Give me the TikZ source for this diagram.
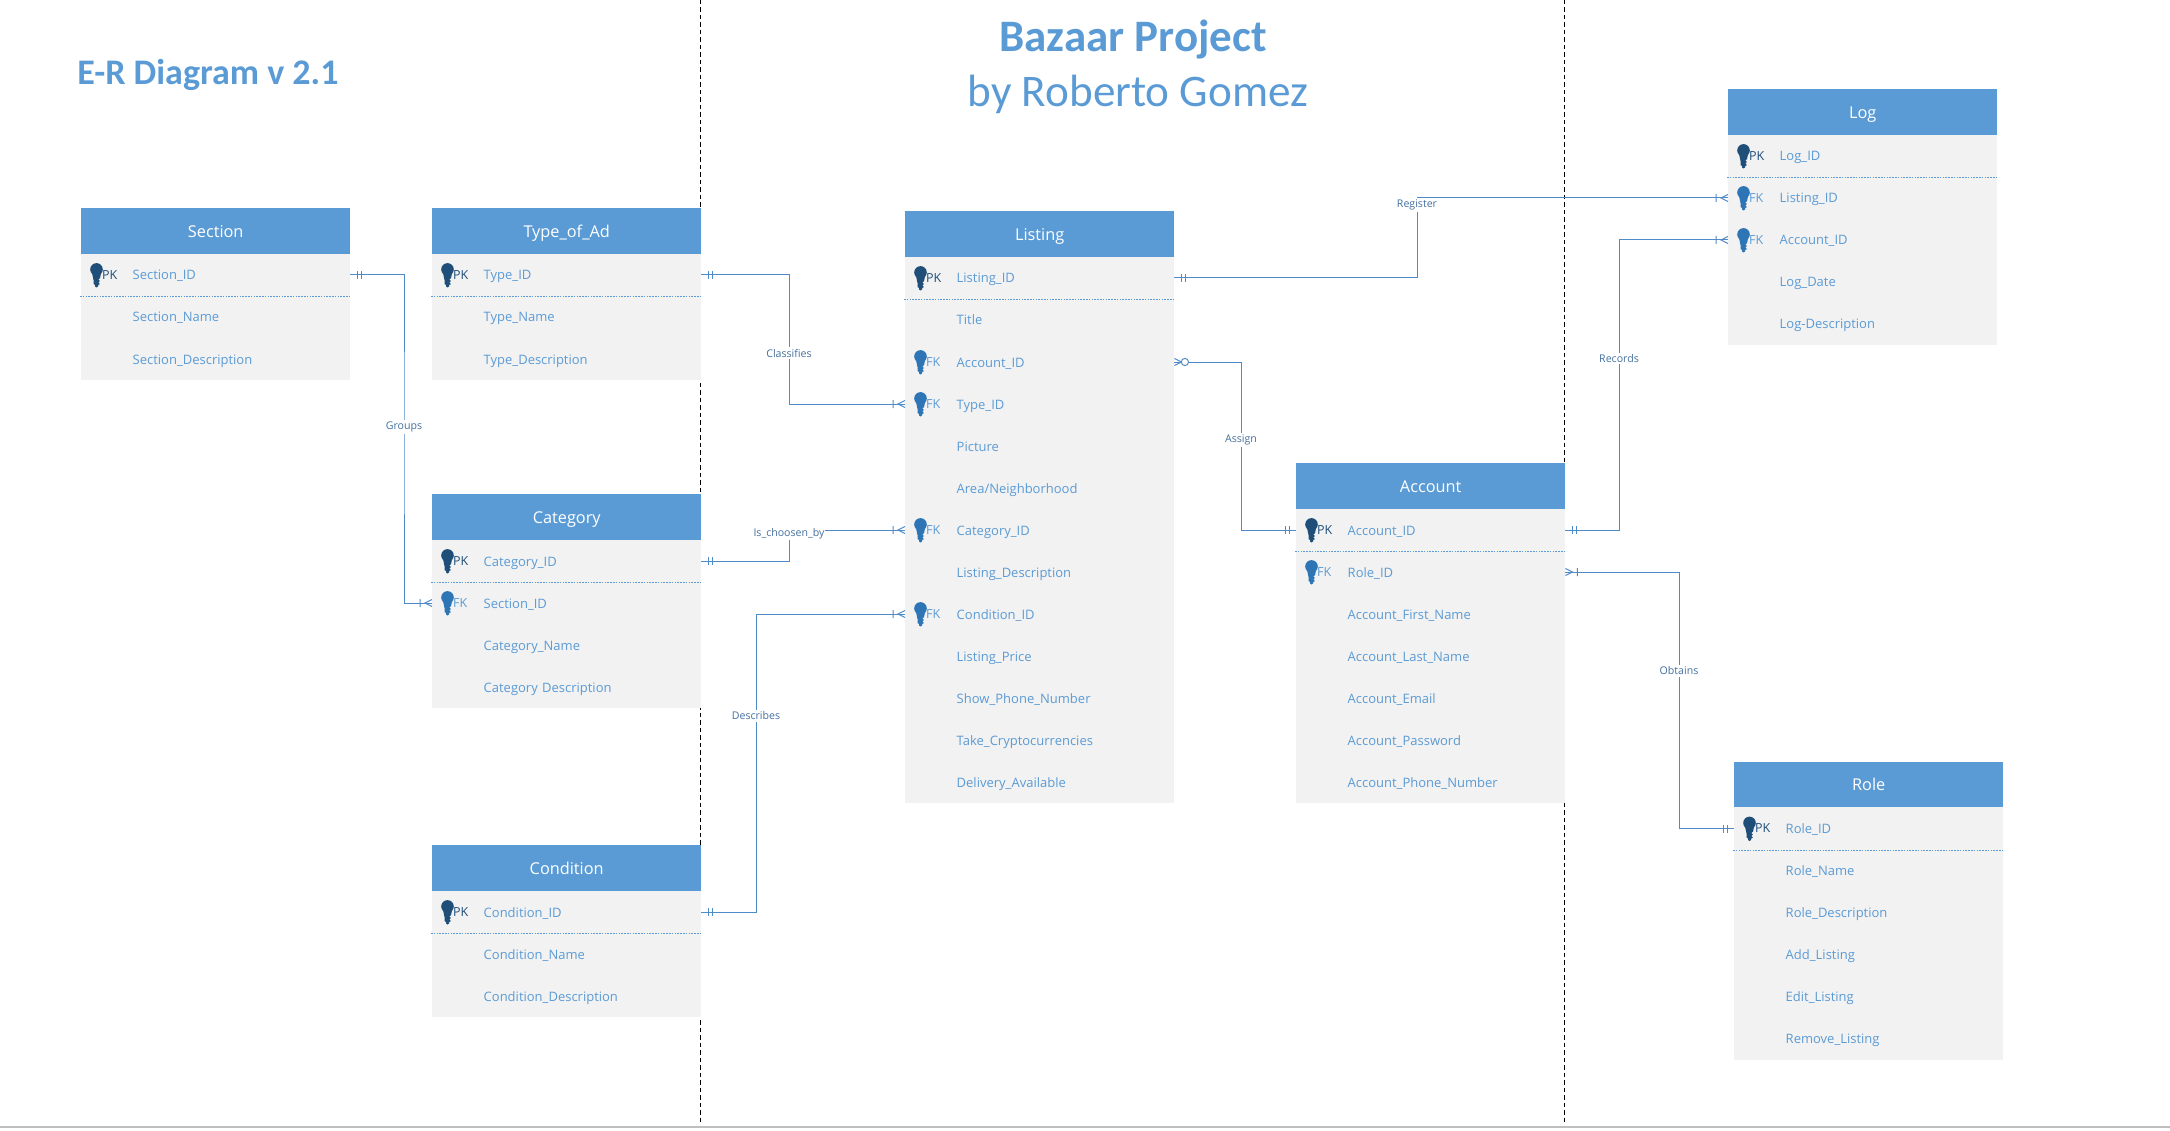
\documentclass[tikz,border=0pt]{standalone}
\usepackage{fontspec}
\setmainfont{Open Sans}
\newfontfamily\titlefont{Carlito}

\definecolor{erblue}{HTML}{5B9BD5}
\definecolor{erline}{HTML}{4F8AC9}
\definecolor{errel}{HTML}{44709F}
\definecolor{ergray}{HTML}{F2F2F2}
\definecolor{pkblue}{HTML}{1F4E79}
\definecolor{fkblue}{HTML}{2E75B6}

\tikzset{
  erhead/.style={fill=erblue, text=white, minimum width=269pt, minimum height=46pt, inner sep=0pt, text height=14.5pt, text depth=2.5pt, font=\fontsize{16.3}{18}\selectfont},
  errow/.style={fill=ergray, text=erblue, anchor=west, minimum height=42.5pt, inner sep=0pt, text width=269pt, text height=11pt, text depth=1pt,
    font=\fontsize{13}{15}\selectfont, execute at begin node={\hspace*{51.5pt}}},
  erkey/.style={anchor=west, inner sep=0pt, font=\fontsize{12.5}{14}\selectfont},
  ersep/.style={erblue, line width=0.8pt, dash pattern=on 1.6pt off 1.2pt},
  conn/.style={erline, line width=1pt},
  rel/.style={fill=white, text=errel, inner xsep=0.5pt, inner ysep=1.5pt, font=\fontsize{10.6}{12}\selectfont},
  divider/.style={black, line width=1pt, dash pattern=on 4.5pt off 3pt},
  keyicon/.pic={
    \fill (0,-5.6) circle (6.3);
    \fill (-4.5,-2) -- (-3,5) -- (-3,9) -- (-1.5,10) -- (-1.5,11.5) -- (0,12.5) -- (1.5,11.5) -- (1.8,10) -- (3.4,9) -- (1.8,7.5) -- (3.4,6) -- (1.8,4.5) -- (3.6,3) -- (4.5,-2) -- cycle;
  },
  onemark/.pic={\draw[conn] (7,-4) -- (7,4) (11,-4) -- (11,4);},
  manymark/.pic={\draw[conn] (12,-4) -- (12,4) (0,-3.5) -- (7,0) -- (0,3.5);},
  zeromark/.pic={\draw[conn] (0,-3.5) -- (7,0) -- (0,3.5); \draw[conn, fill=white] (10.5,0) circle (3.6);}
}

% name, left, top, title, rows as kind/label
\newcommand{\ertable}[5]{
  \node[erhead, anchor=north west] (#1) at (#2,#3) {#4};
  \foreach \kind/\lab [count=\i] in {#5} {
    \pgfmathsetmacro{\rowy}{#3+67+42*(\i-1)}
    \node[errow] (#1\i) at (#2,\rowy) {\lab};
    \if\kind P%
      \pic[pkblue] at ([xshift=15.5pt]#1\i.west) {keyicon};
      \node[erkey, text=pkblue] (#1\i key) at ([xshift=21pt]#1\i.west) {PK};
    \fi
    \if\kind F%
      \pic[fkblue] at ([xshift=15.5pt]#1\i.west) {keyicon};
      \node[erkey, text=erblue] (#1\i key) at ([xshift=21pt]#1\i.west) {FK};
    \fi
  }
  \draw[ersep] ([xshift=-1pt]#11.south west) -- ([xshift=1pt]#11.south east);
}

\begin{document}
\begin{tikzpicture}[x=1pt,y=-1pt]
\useasboundingbox (0,0) rectangle (2170,1131);

\draw[divider] (700.5,0) -- (700.5,1125);
\draw[divider] (1564.5,0) -- (1564.5,1125);
\draw[color=black!25, line width=1.5pt] (0,1127) -- (2170,1127);

\node[text=erblue, font=\titlefont\bfseries\fontsize{36}{40}\selectfont] (version) at (208,75) {E-R Diagram v 2.1};
\node[text=erblue, font=\titlefont\bfseries\fontsize{45}{50}\selectfont] (project) at (1133,40) {Bazaar Project};
\node[text=erblue, font=\titlefont\fontsize{45.2}{50}\selectfont] (byline) at (1138,94) {by Roberto Gomez};

\ertable{sec}{81}{208}{Section}{P/Section\_ID,N/Section\_Name,N/Section\_Description}
\ertable{typ}{432}{208}{Type\_of\_Ad}{P/Type\_ID,N/Type\_Name,N/Type\_Description}
\ertable{cat}{432}{494}{Category}{P/Category\_ID,F/Section\_ID,N/Category\_Name,N/Category Description}
\ertable{con}{432}{845}{Condition}{P/Condition\_ID,N/Condition\_Name,N/Condition\_Description}
\ertable{lis}{905}{211}{Listing}{P/Listing\_ID,N/Title,F/Account\_ID,F/Type\_ID,N/Picture,N/{Area/Neighborhood},F/Category\_ID,N/Listing\_Description,F/Condition\_ID,N/Listing\_Price,N/Show\_Phone\_Number,N/Take\_Cryptocurrencies,N/Delivery\_Available}
\ertable{acc}{1296}{463}{Account}{P/Account\_ID,F/Role\_ID,N/Account\_First\_Name,N/Account\_Last\_Name,N/Account\_Email,N/Account\_Password,N/Account\_Phone\_Number}
\ertable{log}{1728}{89}{Log}{P/Log\_ID,F/Listing\_ID,F/Account\_ID,N/Log\_Date,N/Log-Description}
\ertable{rol}{1734}{761.5}{Role}{P/Role\_ID,N/Role\_Name,N/Role\_Description,N/Add\_Listing,N/Edit\_Listing,N/Remove\_Listing}

\draw[conn] (sec1.east) -| (404,427) node[rel] (groups) {Groups} |- (cat2.west);
\draw[conn] (typ1.east) -| (789,353) node[rel] (classifies) {Classifies} |- (lis4.west);
\draw[conn] (cat1.east) -| (789,545) |- (lis7.west) node[rel] (choosen) at (789,533.5) {Is\_choosen\_by};
\draw[conn] (con1.east) -| (756,716) node[rel] (describes) {Describes} |- (lis9.west);
\draw[conn] (lis1.east) -| (1417,240) |- (log2.west) node[rel] (register) at (1417,205) {Register};
\draw[conn] (lis3.east) -| (1241,440) node[rel] (assign) {Assign} |- (acc1.west);
\draw[conn] (acc1.east) -| (1619,358.5) node[rel] (records) {Records} |- (log3.west);
\draw[conn] (acc2.east) -| (1679,671) node[rel] (obtains) {Obtains} |- (rol1.west);

\pic at (sec1.east) {onemark};
\pic at (typ1.east) {onemark};
\pic at (cat1.east) {onemark};
\pic at (con1.east) {onemark};
\pic at (lis1.east) {onemark};
\pic at (acc1.east) {onemark};
\pic[xscale=-1] at (acc1.west) {onemark};
\pic[xscale=-1] at (rol1.west) {onemark};
\pic[xscale=-1] at (cat2.west) {manymark};
\pic[xscale=-1] at (lis4.west) {manymark};
\pic[xscale=-1] at (lis7.west) {manymark};
\pic[xscale=-1] at (lis9.west) {manymark};
\pic[xscale=-1] at (log2.west) {manymark};
\pic[xscale=-1] at (log3.west) {manymark};
\pic at (acc2.east) {manymark};
\pic at (lis3.east) {zeromark};

\end{tikzpicture}
\end{document}
